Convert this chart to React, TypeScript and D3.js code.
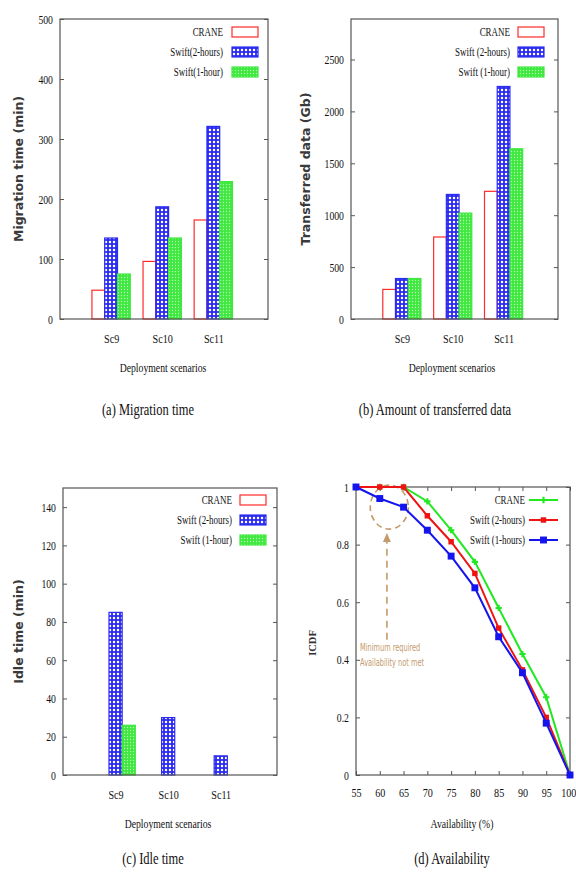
import React, { useEffect, useRef } from 'react';
import * as d3 from 'd3';

// scenarios on the bar charts
const scenarios = ['Sc9', 'Sc10', 'Sc11'];

// (a) migration time (min)
const migrationCrane = [48, 96, 165];
const migrationSwift2h = [135, 187, 321];
const migrationSwift1h = [75, 135, 229];

// (b) transferred data (Gb)
const transferCrane = [285, 790, 1230];
const transferSwift2h = [390, 1200, 2240];
const transferSwift1h = [390, 1020, 1640];

// (c) idle time (min)
const idleCrane = [0, 0, 0];
const idleSwift2h = [85, 30, 10];
const idleSwift1h = [26, 0, 0];

// (d) availability ICDF
const availability = [55, 60, 65, 70, 75, 80, 85, 90, 95, 100];
const icdfCrane = [1, 1, 1, 0.95, 0.85, 0.74, 0.58, 0.42, 0.27, 0];
const icdfSwift2h = [1, 1, 1, 0.9, 0.81, 0.7, 0.51, 0.365, 0.2, 0];
const icdfSwift1h = [1, 0.96, 0.93, 0.85, 0.76, 0.65, 0.48, 0.355, 0.18, 0];

const migrationTicks = [0, 100, 200, 300, 400, 500];
const transferTicks = [0, 500, 1000, 1500, 2000, 2500];
const idleTicks = [0, 20, 40, 60, 80, 100, 120, 140];
const icdfTicks = [0, 0.2, 0.4, 0.6, 0.8, 1];

const namesA = ['CRANE', 'Swift(2-hours)', 'Swift(1-hour)'];
const namesBC = ['CRANE', 'Swift (2-hours)', 'Swift (1-hour)'];
const namesD = ['CRANE', 'Swift (2-hours)', 'Swift (1-hours)'];

const SERIF = "'Liberation Serif', 'DejaVu Serif', serif";
const SANS = "'DejaVu Sans', sans-serif";
const SQ = 0.78; // squeeze the serif text like the condensed original
const AXIS = '#555';
const RED = '#ff2a2a';
const BLUE = '#2a2af0';
const GREEN = '#3ee83e';

const text = (g, x, y, str, size, opts: any = {}) => {
  const sx = opts.sx ?? SQ;
  const rot = opts.rotate ? ' rotate(-90)' : '';
  return g.append('text')
    .attr('transform', `translate(${x},${y})${rot} scale(${sx},1)`)
    .attr('text-anchor', opts.anchor || 'middle')
    .attr('dominant-baseline', opts.baseline || 'auto')
    .style('font-family', opts.family || SERIF)
    .style('font-size', size + 'px')
    .style('font-weight', opts.weight || 'normal')
    .style('fill', opts.fill || '#111')
    .text(str);
};

const drawBars = (svg, cfg) => {
  const g = svg.append('g');
  const x = d3.scaleLinear().domain([-1, 3.07]).range([cfg.left, cfg.right]);
  const y = d3.scaleLinear().domain([0, cfg.yMax]).range([cfg.bottom, cfg.top]);
  const barW = x(0.25) - x(0);
  const fills = ['#fff', 'url(#hatchBlue)', 'url(#dotGreen)'];
  const strokes = [RED, BLUE, GREEN];

  // bars
  cfg.values.forEach((vals, k) => {
    g.selectAll(null)
      .data(vals.map((v, i) => ({ v, i })).filter(d => d.v > 0))
      .enter()
      .append('rect')
      .attr('x', d => x(d.i) + (k - 1.5) * barW)
      .attr('y', d => y(d.v))
      .attr('width', barW)
      .attr('height', d => cfg.bottom - y(d.v))
      .style('fill', fills[k])
      .style('stroke', strokes[k])
      .style('stroke-width', 1.2);
  });

  // frame
  g.append('rect')
    .attr('x', cfg.left).attr('y', cfg.top)
    .attr('width', cfg.right - cfg.left).attr('height', cfg.bottom - cfg.top)
    .style('fill', 'none').style('stroke', AXIS).style('stroke-width', 1.2);

  const yAxis = g.append('g').attr('transform', `translate(${cfg.left},0)`)
    .call(d3.axisLeft(y).tickValues(cfg.yTicks).tickSizeInner(-4).tickSizeOuter(0).tickPadding(9)
      .tickFormat(d3.format('d')));
  yAxis.select('.domain').remove();
  yAxis.selectAll('line').style('stroke', AXIS);
  yAxis.selectAll('text').attr('transform', `scale(${SQ},1)`)
    .style('font-family', SERIF).style('font-size', '12.5px').style('fill', '#111');

  const yRight = g.append('g').attr('transform', `translate(${cfg.right},0)`)
    .call(d3.axisRight(y).tickValues(cfg.yTicks).tickSizeInner(-4).tickSizeOuter(0).tickFormat(() => ''));
  yRight.select('.domain').remove();
  yRight.selectAll('line').style('stroke', AXIS);

  const xAxis = g.append('g').attr('transform', `translate(0,${cfg.bottom})`)
    .call(d3.axisBottom(x).tickValues([0, 1, 2]).tickSize(0).tickPadding(15)
      .tickFormat((d) => scenarios[d as number]));
  xAxis.select('.domain').remove();
  xAxis.selectAll('text').attr('transform', `scale(${SQ},1)`)
    .style('font-family', SERIF).style('font-size', '13px').style('fill', '#111');

  // labels
  text(g, cfg.yLabelX, (cfg.top + cfg.bottom) / 2, cfg.yLabel, 12.5,
    { rotate: true, family: SANS, weight: 'bold', sx: 1, baseline: 'central', fill: '#3a3a3a' });
  text(g, cfg.xLabelX, cfg.bottom + 53, 'Deployment scenarios', 12.5);
  text(g, cfg.captionX, cfg.captionY, cfg.caption, 16);

  // legend
  cfg.names.forEach((n, k) => {
    const ly = cfg.legendY + k * 20;
    text(g, cfg.legendTextX, ly + 4, n, 11.5, { anchor: 'end' });
    g.append('rect')
      .attr('x', cfg.legendSwatchX).attr('y', ly - 5)
      .attr('width', 26).attr('height', 10)
      .style('fill', fills[k]).style('stroke', strokes[k]).style('stroke-width', 1.2);
  });
};

const drawLines = (svg) => {
  const left = 356, right = 570, top = 487, bottom = 775;
  const g = svg.append('g');
  const x = d3.scaleLinear().domain([55, 100]).range([left, right]);
  const y = d3.scaleLinear().domain([0, 1]).range([bottom, top]);
  const tan = '#c49a6c';

  // annotation
  g.append('ellipse')
    .attr('cx', x(62)).attr('cy', y(0.93)).attr('rx', 19).attr('ry', 22)
    .style('fill', 'none').style('stroke', tan).style('stroke-width', 1.6)
    .style('stroke-dasharray', '6,4');
  g.append('line')
    .attr('x1', x(61.5)).attr('x2', x(61.5)).attr('y1', y(0.47)).attr('y2', y(0.82))
    .style('stroke', tan).style('stroke-width', 1.6).style('stroke-dasharray', '7,5');
  g.append('path')
    .attr('d', `M${x(61.5)},${y(0.84)} l-4,9 l8,0 Z`)
    .style('fill', tan);
  text(g, left + 4, y(0.43), 'Minimum required', 10, { anchor: 'start', family: SANS, sx: 0.66, fill: tan });
  text(g, left + 4, y(0.38), 'Availability not met', 10, { anchor: 'start', family: SANS, sx: 0.66, fill: tan });

  // frame + ticks
  g.append('rect')
    .attr('x', left).attr('y', top).attr('width', right - left).attr('height', bottom - top)
    .style('fill', 'none').style('stroke', AXIS).style('stroke-width', 1.2);

  const yAxis = g.append('g').attr('transform', `translate(${left},0)`)
    .call(d3.axisLeft(y).tickValues(icdfTicks).tickSizeInner(-4).tickSizeOuter(0).tickPadding(9)
      .tickFormat(d => String(d)));
  yAxis.select('.domain').remove();
  yAxis.selectAll('line').style('stroke', AXIS);
  yAxis.selectAll('text').attr('transform', `scale(${SQ},1)`)
    .style('font-family', SERIF).style('font-size', '12.5px').style('fill', '#111');
  const yRight = g.append('g').attr('transform', `translate(${right},0)`)
    .call(d3.axisRight(y).tickValues(icdfTicks).tickSizeInner(-4).tickSizeOuter(0).tickFormat(() => ''));
  yRight.select('.domain').remove();
  yRight.selectAll('line').style('stroke', AXIS);

  const xAxis = g.append('g').attr('transform', `translate(0,${bottom})`)
    .call(d3.axisBottom(x).tickValues(availability).tickSizeInner(-4).tickSizeOuter(0).tickPadding(13));
  xAxis.select('.domain').remove();
  xAxis.selectAll('line').style('stroke', AXIS);
  xAxis.selectAll('text').attr('transform', `scale(${SQ},1)`)
    .style('font-family', SERIF).style('font-size', '13px').style('fill', '#111');
  // keep the last label inside the page
  xAxis.selectAll('text').filter(d => d === 100)
    .attr('text-anchor', 'end').attr('x', 7.5);
  const xTop = g.append('g').attr('transform', `translate(0,${top})`)
    .call(d3.axisTop(x).tickValues(availability).tickSizeInner(-4).tickSizeOuter(0).tickFormat(() => ''));
  xTop.select('.domain').remove();
  xTop.selectAll('line').style('stroke', AXIS);

  const series = [
    { vals: icdfCrane, color: '#22e822', marker: 'plus' },
    { vals: icdfSwift2h, color: '#ee1414', marker: 'small' },
    { vals: icdfSwift1h, color: '#1414ee', marker: 'square' },
  ];
  const line = d3.line<number>().x((d, i) => x(availability[i])).y(d => y(d));

  const marker = (sel, kind, color) => {
    if (kind === 'plus') {
      sel.append('path').attr('d', d3.symbol(d3.symbolCross, 22)())
        .style('fill', color);
    } else {
      sel.append('path').attr('d', d3.symbol(d3.symbolSquare, kind === 'small' ? 30 : 48)())
        .style('fill', color);
    }
  };

  series.forEach((s) => {
    g.append('path').datum(s.vals).attr('d', line)
      .style('fill', 'none').style('stroke', s.color).style('stroke-width', 2);
    const pts = g.selectAll(null).data(s.vals).enter().append('g')
      .attr('transform', (d, i) => `translate(${x(availability[i])},${y(d)})`);
    marker(pts, s.marker, s.color);
  });

  // legend
  namesD.forEach((n, k) => {
    const ly = 500 + k * 20;
    text(g, 525, ly + 4, n, 11.5, { anchor: 'end' });
    g.append('line').attr('x1', 529).attr('x2', 558).attr('y1', ly).attr('y2', ly)
      .style('stroke', series[k].color).style('stroke-width', 2);
    const m = g.append('g').attr('transform', `translate(543.5,${ly})`);
    marker(m, series[k].marker, series[k].color);
  });

  text(g, 312, (top + bottom) / 2 + 12, 'ICDF', 10.5,
    { rotate: true, weight: 'bold', sx: 1, baseline: 'central', fill: '#333' });
  text(g, 462, bottom + 53, 'Availability (%)', 12.5);
  text(g, 452, 864, '(d) Availability', 16);
};

const App = () => {
  const ref = useRef<SVGSVGElement>(null);

  useEffect(() => {
    const svg = d3.select(ref.current);
    svg.selectAll('*').remove();

    const defs = svg.append('defs');
    const hb = defs.append('pattern').attr('id', 'hatchBlue')
      .attr('patternUnits', 'userSpaceOnUse').attr('width', 4).attr('height', 4);
    hb.append('rect').attr('width', 4).attr('height', 4).style('fill', BLUE);
    hb.append('circle').attr('cx', 2).attr('cy', 2).attr('r', 1.25).style('fill', '#fff');
    const dg = defs.append('pattern').attr('id', 'dotGreen')
      .attr('patternUnits', 'userSpaceOnUse').attr('width', 3).attr('height', 3);
    dg.append('rect').attr('width', 3).attr('height', 3).style('fill', GREEN);
    dg.append('circle').attr('cx', 1.5).attr('cy', 1.5).attr('r', 0.7).style('fill', '#b8ffb8');

    drawBars(svg, {
      left: 60, right: 268, top: 19, bottom: 319, yMax: 500, yTicks: migrationTicks,
      values: [migrationCrane, migrationSwift2h, migrationSwift1h], names: namesA,
      yLabel: 'Migration time (min)', yLabelX: 18, xLabelX: 163,
      caption: '(a) Migration time', captionX: 148, captionY: 415,
      legendTextX: 223, legendSwatchX: 232, legendY: 32,
    });
    drawBars(svg, {
      left: 351, right: 558, top: 19, bottom: 319, yMax: 2890, yTicks: transferTicks,
      values: [transferCrane, transferSwift2h, transferSwift1h], names: namesBC,
      yLabel: 'Transferred data (Gb)', yLabelX: 305, xLabelX: 452,
      caption: '(b) Amount of transferred data', captionX: 435, captionY: 415,
      legendTextX: 510, legendSwatchX: 518, legendY: 32,
    });
    drawBars(svg, {
      left: 63, right: 277, top: 488, bottom: 775, yMax: 150, yTicks: idleTicks,
      values: [idleCrane, idleSwift2h, idleSwift1h], names: namesBC,
      yLabel: 'Idle time (min)', yLabelX: 18, xLabelX: 168,
      caption: '(c) Idle time', captionX: 153, captionY: 864,
      legendTextX: 232, legendSwatchX: 240, legendY: 500,
    });
    drawLines(svg);
  }, []);

  return (
    <svg ref={ref} width={576} height={873}
      style={{ position: 'absolute', left: 0, top: 0, background: '#fff' }} />
  );
};

export default App;
